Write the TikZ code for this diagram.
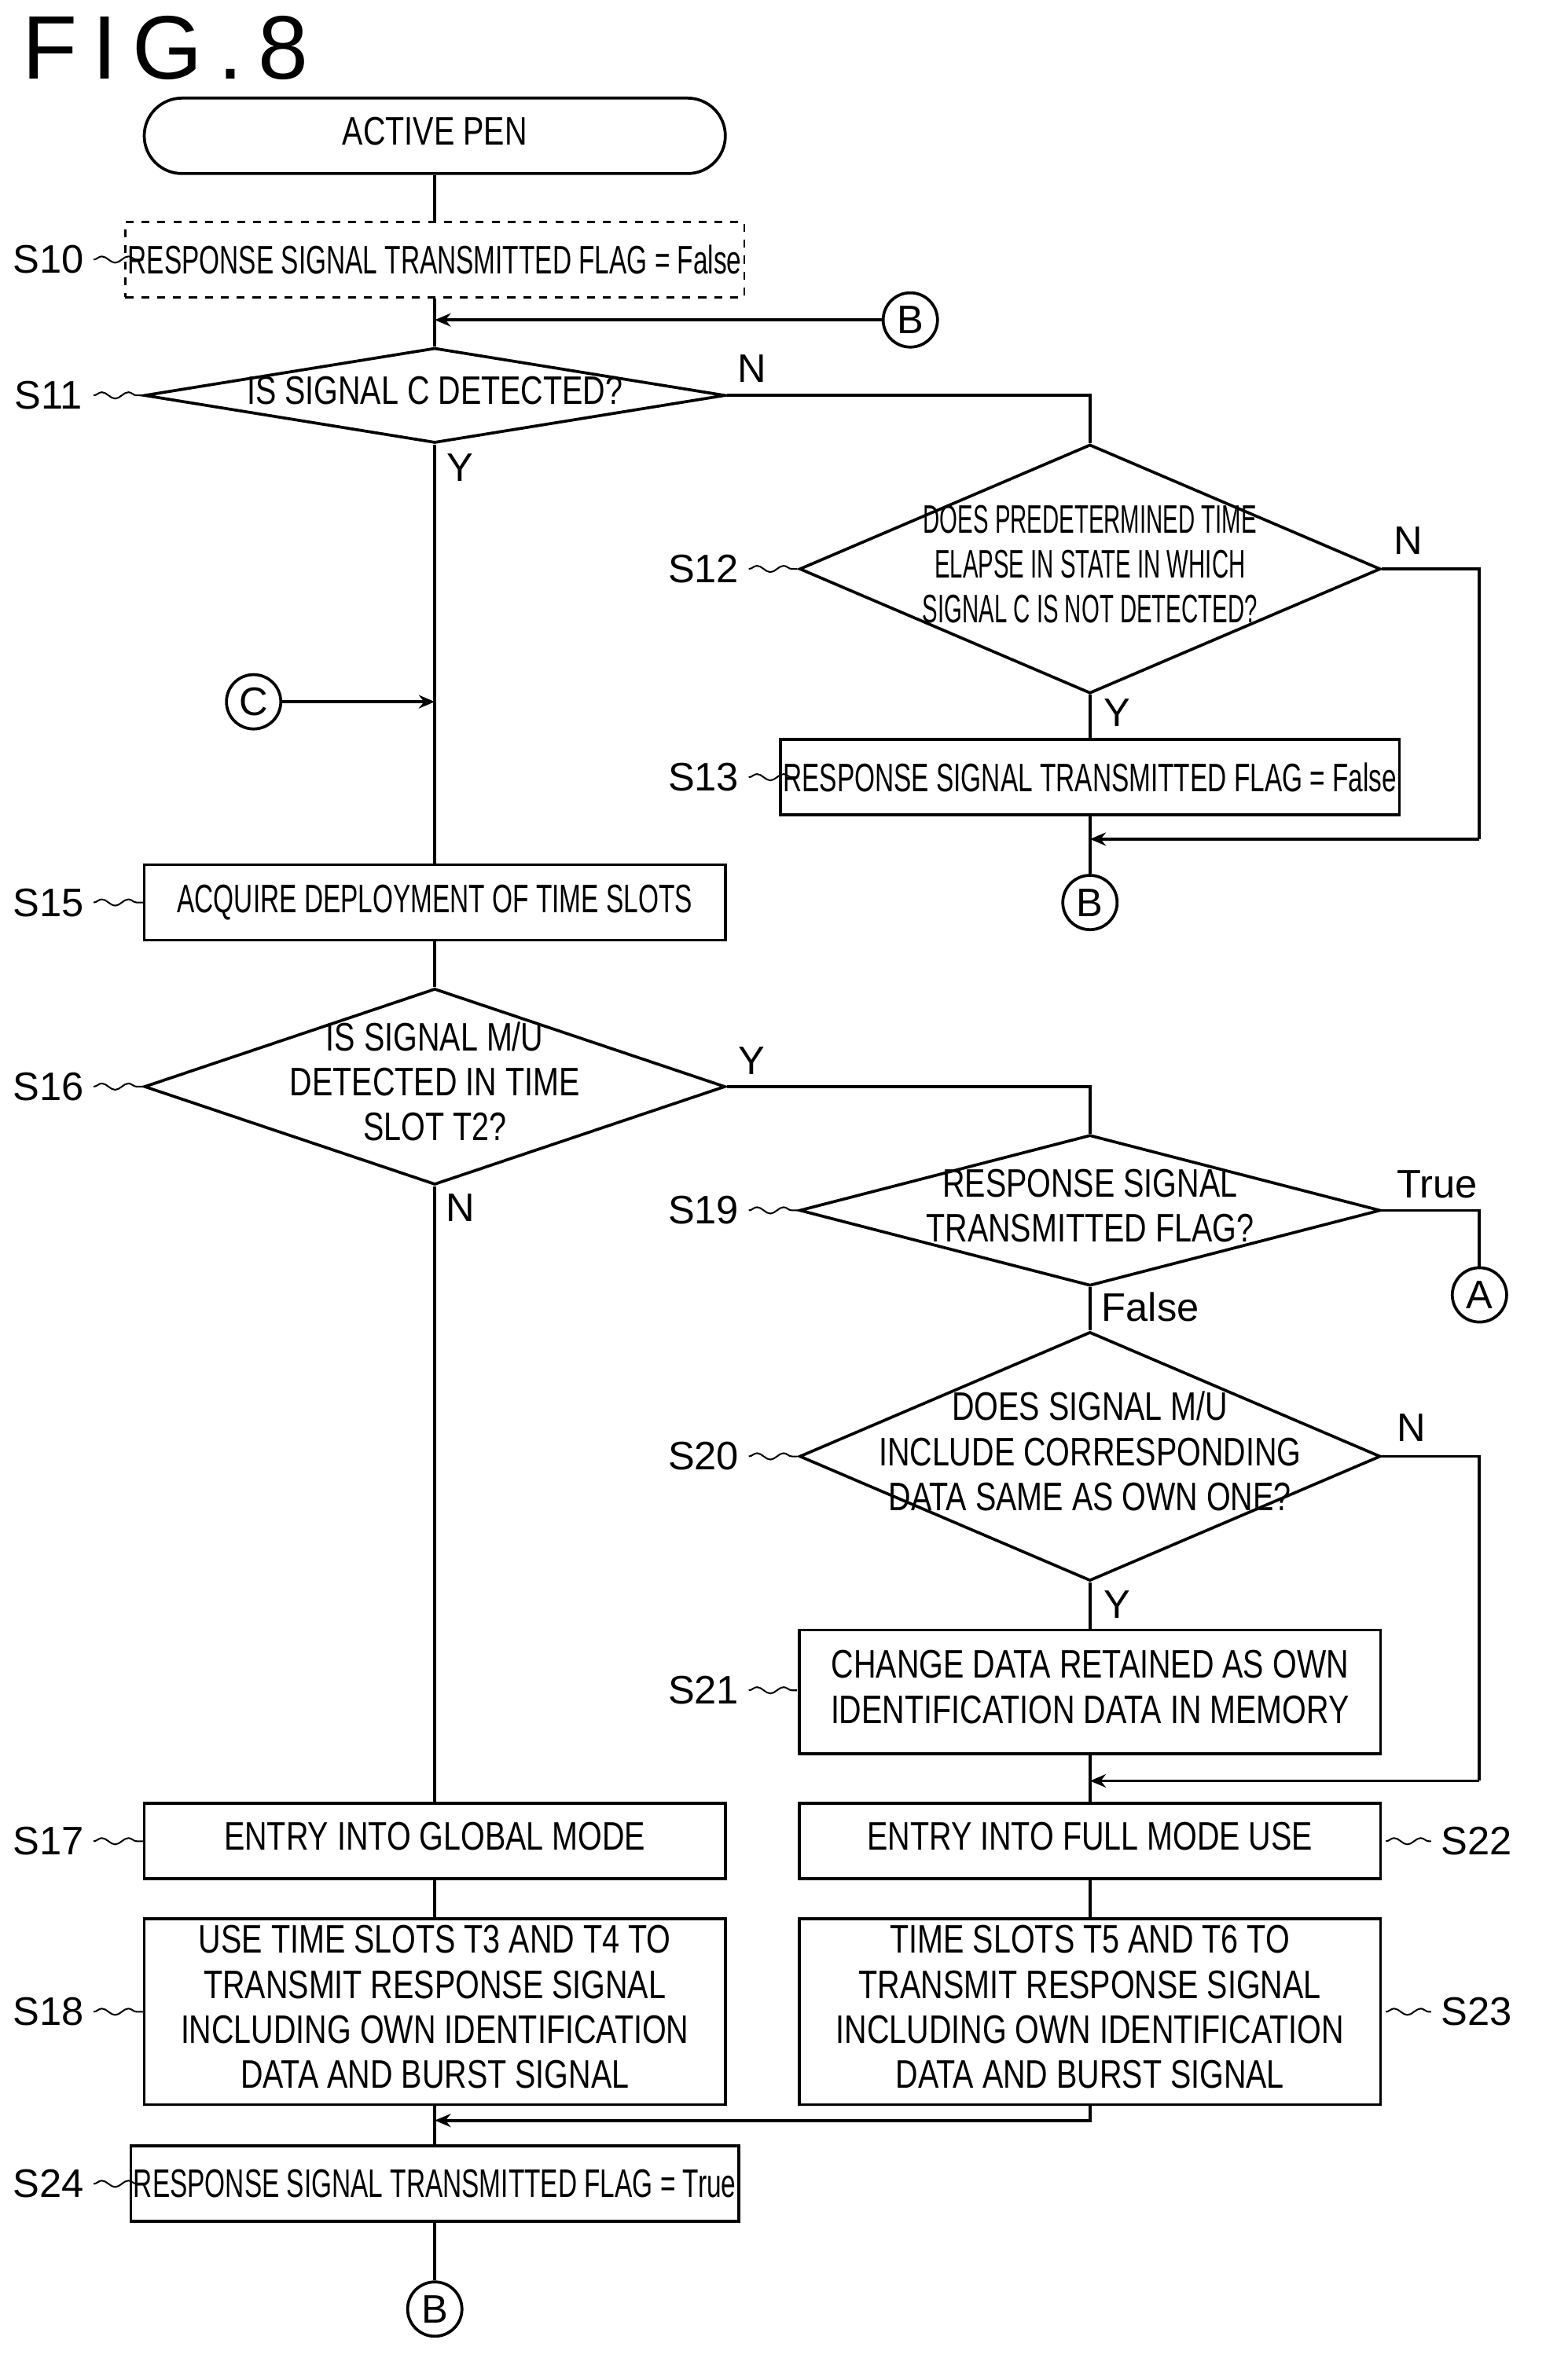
\documentclass[tikz,border=0pt]{standalone}
\usepackage{fontspec}
\setmainfont{Liberation Sans}
\usetikzlibrary{shapes.geometric,arrows.meta,decorations.pathmorphing}
\newcommand{\nt}[1]{\scalebox{.78}[1]{\begin{tabular}{@{}c@{}}#1\end{tabular}}}
\newcommand{\ft}[1]{\scalebox{.66}[1]{#1}}
\newcommand{\st}[1]{\scalebox{.58}[1]{\begin{tabular}{@{}c@{}}#1\end{tabular}}}
\begin{document}
\begin{tikzpicture}[x=0.02cm,y=-0.02cm,line width=1.1pt,
  box/.style={draw,minimum width=7.7cm,minimum height=1cm,inner sep=1pt,font=\fontsize{15}{17}\selectfont},
  dec/.style={draw,diamond,inner sep=0pt,minimum width=7.7cm,label distance=0pt},
  dtx/.style={font=\fontsize{15}{17}\selectfont,inner sep=0pt},
  con/.style={draw,circle,minimum size=0.72cm,inner sep=0pt,font=\fontsize{15}{15}\selectfont},
  lab/.style={font=\fontsize{15}{15}\selectfont},
  wig/.style={decorate,decoration={snake,amplitude=1.2pt,segment length=10pt},line width=.6pt},
  >={Stealth[length=6pt,width=5pt]}]
\useasboundingbox (0,0) rectangle (1024,1577);
\node[anchor=west,font=\fontsize{34}{34}\selectfont] (fig) at (8,32) {F\,I\,G\,.\,8};
% left column
\node[box,rounded corners=0.5cm] (start) at (288,90) {\nt{ACTIVE PEN}};
\node[box,dashed,line width=.7pt] (s10) at (288,172) {\ft{RESPONSE SIGNAL TRANSMITTED FLAG = False}};
\coordinate (j1) at (288,212);
\node[con] (b1) at (603,212) {B};
\node[dec,minimum height=1.26cm,label={[dtx]center:{\nt{IS SIGNAL C DETECTED?}}}] (s11) at (288,262) {};
\coordinate (j2) at (288,465);
\node[con] (c1) at (168,465) {C};
\node[box] (s15) at (288,598) {\ft{ACQUIRE DEPLOYMENT OF TIME SLOTS}};
\node[dec,minimum height=2.6cm,label={[dtx]center:{\nt{IS SIGNAL M/U\\DETECTED IN TIME\\SLOT T2?}}}] (s16) at (288,720) {};
\node[box] (s17) at (288,1220) {\nt{ENTRY INTO GLOBAL MODE}};
\node[box,minimum height=2.3cm] (s18) at (288,1333) {\nt{USE TIME SLOTS T3 AND T4 TO\\TRANSMIT RESPONSE SIGNAL\\INCLUDING OWN IDENTIFICATION\\DATA AND BURST SIGNAL}};
\coordinate (j3) at (288,1405);
\node[box] (s24) at (288,1447) {\ft{RESPONSE SIGNAL TRANSMITTED FLAG = True}};
\node[con] (b3) at (288,1530) {B};
% right column
\node[dec,minimum height=3.3cm,label={[dtx]center:{\st{DOES PREDETERMINED TIME\\ELAPSE IN STATE IN WHICH\\SIGNAL C IS NOT DETECTED?}}}] (s12) at (722,377) {};
\node[box] (s13) at (722,515) {\ft{RESPONSE SIGNAL TRANSMITTED FLAG = False}};
\coordinate (j4) at (722,556);
\node[con] (b2) at (722,598) {B};
\node[dec,minimum height=2cm,label={[dtx]center:{\nt{RESPONSE SIGNAL\\TRANSMITTED FLAG?}}}] (s19) at (722,802) {};
\node[con] (a1) at (980,858) {A};
\node[dec,minimum height=3.3cm,label={[dtx]center:{\nt{DOES SIGNAL M/U\\INCLUDE CORRESPONDING\\DATA SAME AS OWN ONE?}}}] (s20) at (722,965) {};
\node[box,minimum height=1.64cm] (s21) at (722,1121) {\nt{CHANGE DATA RETAINED AS OWN\\IDENTIFICATION DATA IN MEMORY}};
\coordinate (j5) at (722,1180);
\node[box] (s22) at (722,1220) {\nt{ENTRY INTO FULL MODE USE}};
\node[box,minimum height=2.3cm] (s23) at (722,1333) {\nt{TIME SLOTS T5 AND T6 TO\\TRANSMIT RESPONSE SIGNAL\\INCLUDING OWN IDENTIFICATION\\DATA AND BURST SIGNAL}};
% connectors
\draw (start) -- (s10);
\draw (s10) -- (s11.north);
\draw[->] (b1) -- (j1);
\draw (s11.south) -- (s15);
\draw[->] (c1) -- (j2);
\draw (s11.east) -| (s12.north);
\draw (s12.south) -- (s13);
\draw (s12.east) -- (980,377) -- (980,556);
\draw[->] (980,556) -- (j4);
\draw (s13) -- (b2);
\draw (s15) -- (s16.north);
\draw (s16.south) -- (s17);
\draw (s17) -- (s18);
\draw (s18) -- (s24);
\draw[->] (s23.south) |- (j3);
\draw (s24) -- (b3);
\draw (s16.east) -| (s19.north);
\draw (s19.east) -| (a1);
\draw (s19.south) -- (s20.north);
\draw (s20.south) -- (s21);
\draw (s20.east) -- (980,965) -- (980,1180);
\draw[->] (980,1180) -- (j5);
\draw (s21) -- (s22);
\draw (s22) -- (s23);
% branch labels
\node[lab] (n11) at (498,244) {N};
\node[lab] (y11) at (305,310) {Y};
\node[lab] (n12) at (933,358) {N};
\node[lab] (y12) at (740,472) {Y};
\node[lab] (y16) at (498,703) {Y};
\node[lab] (n16) at (305,800) {N};
\node[lab] (t19) at (952,785) {True};
\node[lab] (f19) at (762,866) {False};
\node[lab] (n20) at (935,946) {N};
\node[lab] (y20) at (740,1063) {Y};
% step labels
\foreach \n/\x/\y/\e in {S10/32/172/95, S11/32/262/95, S15/32/598/95, S16/32/720/95,
  S17/32/1220/95, S18/32/1333/95, S24/32/1447/95,
  S12/466/377/528, S13/466/515/528, S19/466/802/528, S20/466/965/528, S21/466/1120/528}{
  \node[lab] (l\n) at (\x,\y) {\n};
  \draw[wig] (\x+30,\y) -- (\e,\y);}
\foreach \n/\y in {S22/1220, S23/1333}{
  \node[lab] (l\n) at (978,\y) {\n};
  \draw[wig] (918,\y) -- (948,\y);}
\end{tikzpicture}
\end{document}
